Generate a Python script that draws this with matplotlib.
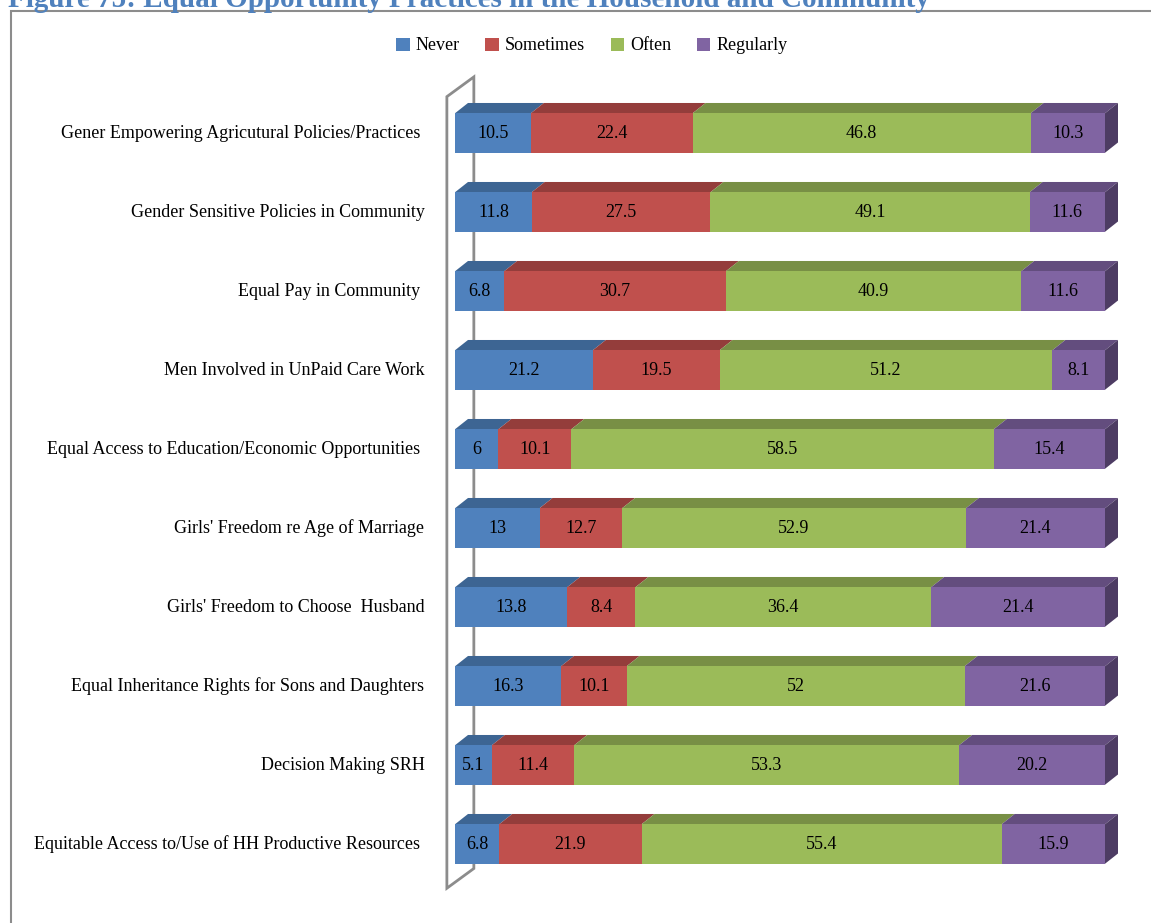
import matplotlib
matplotlib.use("Agg")
import matplotlib.pyplot as plt
from matplotlib.patches import Polygon, Patch, Rectangle

plt.rcParams["font.family"] = ["Liberation Serif", "DejaVu Serif"]

# data (values as printed, rows normalised to 100% like the source chart)
categories = [
    "Gener Empowering Agricutural Policies/Practices ",
    "Gender Sensitive Policies in Community",
    "Equal Pay in Community ",
    "Men Involved in UnPaid Care Work",
    "Equal Access to Education/Economic Opportunities ",
    "Girls' Freedom re Age of Marriage",
    "Girls' Freedom to Choose  Husband",
    "Equal Inheritance Rights for Sons and Daughters",
    "Decision Making SRH",
    "Equitable Access to/Use of HH Productive Resources ",
]
never = [10.5, 11.8, 6.8, 21.2, 6, 13, 13.8, 16.3, 5.1, 6.8]
sometimes = [22.4, 27.5, 30.7, 19.5, 10.1, 12.7, 8.4, 10.1, 11.4, 21.9]
often = [46.8, 49.1, 40.9, 51.2, 58.5, 52.9, 36.4, 52, 53.3, 55.4]
regularly = [10.3, 11.6, 11.6, 8.1, 15.4, 21.4, 21.4, 21.6, 20.2, 15.9]
series_names = ["Never", "Sometimes", "Often", "Regularly"]

front = ["#4F81BD", "#C0504D", "#9BBB59", "#8064A2"]
top = ["#3D6593", "#943D3B", "#788F45", "#634D7E"]
side = ["#2F4E72", "#73302E", "#5D6F35", "#4D3C63"]

W, H = 1151, 923
fig = plt.figure(figsize=(W / 100, H / 100), dpi=100)

# chart frame + caption (cut off at the top, as in the source)
fig.patches.append(Rectangle((11 / W, -0.1), 1.2, 1 - 11 / H + 0.1,
                             transform=fig.transFigure, fill=False,
                             edgecolor="#8C8C8C", lw=1.5))
fig.text(8 / W, 1 - 7 / H,
         "Figure 75: Equal Opportunity Practices in the Household and Community",
         color="#4F81BD", fontsize=21, fontweight="bold", va="baseline", ha="left")

# axes: x 0..100 -> px 455..1105, rows 79 px apart starting at px 133
ytop, ybot = -0.75, 9.75
ax = fig.add_axes([455 / W, 1 - (133 + ybot * 79) / H, 650 / W, (ybot - ytop) * 79 / H])
ax.set_xlim(0, 100)
ax.set_ylim(ybot, ytop)
ax.axis("off")

dx, dy = 2.0, 0.13   # bar depth in data units
bh = 0.5

# back wall
wdx, wdy = 4.15, 0.25
wx0, wy0, wy1 = -1.25, -0.46, 9.56
ax.add_patch(Polygon([(wx0, wy0), (wx0 + wdx, wy0 - wdy), (wx0 + wdx, wy1 - wdy), (wx0, wy1)],
                     closed=True, facecolor="white", edgecolor="#8C8C8C", lw=2,
                     clip_on=False, zorder=1))

values = list(zip(never, sometimes, often, regularly))
for i, row in enumerate(values):
    total = sum(row)
    left = 0.0
    y0, y1 = i - bh / 2, i + bh / 2
    for j, v in enumerate(row):
        w = v / total * 100
        x0, x1 = left, left + w
        ax.add_patch(Polygon([(x0, y0), (x1, y0), (x1 + dx, y0 - dy), (x0 + dx, y0 - dy)],
                             closed=True, facecolor=top[j], edgecolor="none",
                             clip_on=False, zorder=2))
        ax.add_patch(Rectangle((x0, y0), w, bh, facecolor=front[j], edgecolor="none",
                               clip_on=False, zorder=3))
        if j == len(row) - 1:
            ax.add_patch(Polygon([(x1, y0), (x1 + dx, y0 - dy), (x1 + dx, y1 - dy), (x1, y1)],
                                 closed=True, facecolor=side[j], edgecolor="none",
                                 clip_on=False, zorder=3))
        ax.text((x0 + x1) / 2, i, f"{v:g}", ha="center", va="center",
                fontsize=13, zorder=4)
        left = x1
    ax.text(-4.7, i, categories[i], ha="right", va="center", fontsize=13, clip_on=False)

handles = [Patch(facecolor=c, edgecolor="none") for c in front]
fig.legend(handles, series_names, loc="center", bbox_to_anchor=(592 / W, 1 - 46 / H),
           ncol=4, frameon=False, fontsize=13, handlelength=0.75, handleheight=0.75,
           handletextpad=0.35, columnspacing=1.4)

fig.savefig("out.png", dpi=100)
